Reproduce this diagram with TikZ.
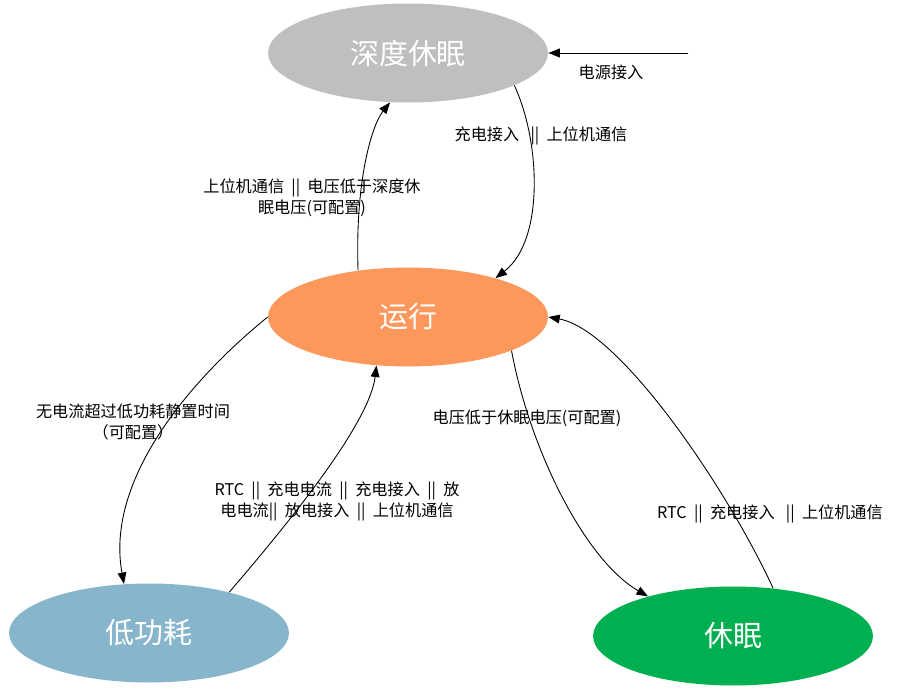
\documentclass[tikz,border=0pt]{standalone}
\usepackage{fontspec}
\setmainfont{Noto Sans CJK SC}
\usetikzlibrary{shapes.geometric, arrows.meta}

\definecolor{deepgray}{RGB}{191,191,191}
\definecolor{runorange}{RGB}{252,152,92}
\definecolor{lowblue}{RGB}{135,182,204}
\definecolor{sleepgreen}{RGB}{0,176,80}

\begin{document}
\begin{tikzpicture}[x=0.02cm, y=-0.02cm]
\def\orsep{\hspace{0.45em}||\hspace{0.45em}}
\tikzset{state/.style={ellipse, minimum width=5.6cm, minimum height=1.98cm, inner sep=0pt, text=white, font=\fontsize{16.5}{20}\selectfont}}
\tikzset{trans/.style={line width=0.5pt, -{Triangle[length=6.5pt, width=5pt]}}}
\tikzset{cond/.style={align=center, inner sep=0pt, font=\fontsize{9.2}{12}\selectfont}}

\useasboundingbox (0,0) rectangle (905,696);
\fill[white] (0,0) rectangle (905,696);

\node[state, fill=deepgray] (deep) at (408,53) {深度休眠};
\node[state, fill=runorange] (run) at (408,317) {运行};
\node[state, fill=lowblue] (low) at (149,633) {低功耗};
\node[state, fill=sleepgreen] (sleep) at (733,636) {休眠};
\coordinate (power) at (688,53);

\draw[trans] (power) -- (deep.east);
\draw[trans] (run.137) .. controls (355,180) and (372,125) .. (deep.250);
\draw[trans] (deep.343) .. controls (540,140) and (545,240) .. (run.24);
\draw[trans] (run.west) .. controls (190,380) and (105,480) .. (low.117);
\draw[trans] (low.27) .. controls (300,510) and (370,420) .. (run.237);
\draw[trans] (run.342) .. controls (530,450) and (585,560) .. (sleep.155);
\draw[trans] (sleep.50) .. controls (728,490) and (620,330) .. (run.east);

\node[cond] (pwrlbl) at (611,72) {电源接入};
\node[cond] (wakelbl) at (541,136) {充电接入\hspace{0.7em}||\hspace{0.45em}上位机通信};
\node[cond] (deeplbl) at (312,198) {上位机通信\orsep 电压低于深度休\\眠电压(可配置)};
\node[cond] (lowlbl) at (133,422) {无电流超过低功耗静置时间\\（可配置）};
\node[cond] (backlbl) at (337,501) {RTC\orsep 充电电流\orsep 充电接入\orsep 放\\电电流||\hspace{0.45em}放电接入\orsep 上位机通信};
\node[cond] (sleeplbl) at (527,418) {电压低于休眠电压(可配置)};
\node[cond] (resumelbl) at (770,514) {RTC\orsep 充电接入\hspace{0.7em}||\hspace{0.45em}上位机通信};
\end{tikzpicture}
\end{document}
